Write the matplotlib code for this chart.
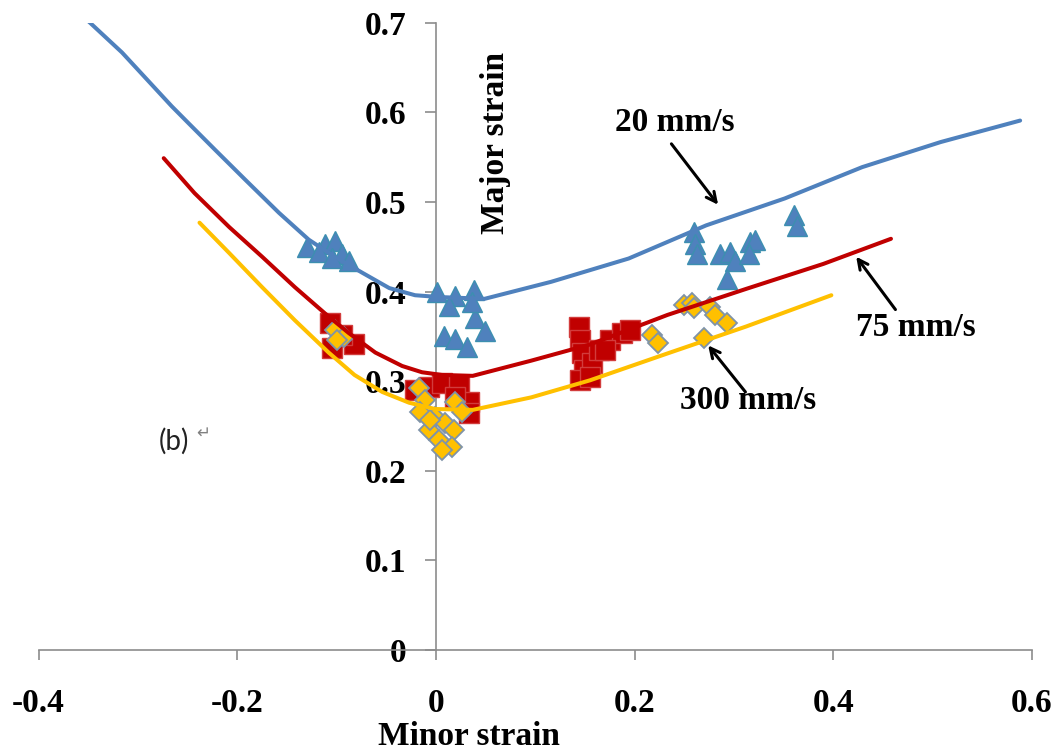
"""Forming limit curves (major vs minor strain) at three punch speeds, panel (b)."""
import matplotlib
matplotlib.use("Agg")
import matplotlib.pyplot as plt

# --- limit curves -------------------------------------------------------- #
blue_x = [-0.352, -0.348, -0.316, -0.286, -0.266, -0.249, -0.222, -0.192,
          -0.158, -0.128, -0.102, -0.074, -0.047, -0.021, 0.003, 0.049, 0.116,
          0.194, 0.272, 0.351, 0.429, 0.508, 0.588]
blue_y = [0.704, 0.700, 0.667, 0.631, 0.607, 0.588, 0.558, 0.525,
          0.488, 0.458, 0.439, 0.421, 0.404, 0.396, 0.394, 0.392, 0.411,
          0.437, 0.474, 0.504, 0.539, 0.567, 0.591]

red_x = [-0.274, -0.243, -0.208, -0.175, -0.142, -0.112, -0.088, -0.061,
         -0.034, -0.014, 0.006, 0.037, 0.096, 0.155, 0.233, 0.312, 0.390, 0.458]
red_y = [0.549, 0.510, 0.472, 0.439, 0.405, 0.376, 0.354, 0.332,
         0.317, 0.310, 0.307, 0.306, 0.323, 0.341, 0.374, 0.403, 0.431, 0.459]

yel_x = [-0.238, -0.208, -0.175, -0.142, -0.108, -0.082, -0.054, -0.027,
         -0.001, 0.037, 0.096, 0.155, 0.233, 0.312, 0.398]
yel_y = [0.477, 0.443, 0.405, 0.368, 0.332, 0.307, 0.288, 0.276,
         0.269, 0.268, 0.282, 0.301, 0.331, 0.361, 0.396]

# --- measured points ----------------------------------------------------- #
tri_x = [-0.130, -0.112, -0.102, -0.118, -0.095, -0.088, -0.105,
         0.001, 0.019, 0.038, 0.013, 0.039, 0.049, 0.008, 0.019, 0.031, 0.036,
         0.260, 0.261, 0.263, 0.286, 0.296, 0.301, 0.293, 0.316, 0.321, 0.315,
         0.360, 0.363]
tri_y = [0.450, 0.453, 0.456, 0.444, 0.442, 0.434, 0.438,
         0.400, 0.395, 0.402, 0.384, 0.371, 0.356, 0.350, 0.347, 0.338, 0.389,
         0.467, 0.453, 0.442, 0.442, 0.444, 0.434, 0.414, 0.455, 0.458, 0.442,
         0.486, 0.473]

sq_x = [-0.107, -0.105, -0.082, -0.095,
        -0.021, -0.007, 0.006, 0.023, 0.033, 0.033, 0.019,
        0.144, 0.145, 0.147, 0.149, 0.145, 0.157, 0.164, 0.175, 0.187, 0.195,
        0.170, 0.155]
sq_y = [0.365, 0.337, 0.341, 0.352,
        0.290, 0.294, 0.298, 0.296, 0.277, 0.265, 0.282,
        0.361, 0.346, 0.332, 0.313, 0.301, 0.320, 0.335, 0.346, 0.354, 0.357,
        0.335, 0.305]

dia_x = [-0.102, -0.093, -0.100,
         -0.017, -0.011, -0.016, -0.001, -0.007, 0.009, 0.019, 0.018, 0.003,
         0.016, 0.006, 0.026, -0.006,
         0.217, 0.224, 0.250, 0.258, 0.260, 0.276, 0.281, 0.293, 0.270]
dia_y = [0.357, 0.349, 0.346,
         0.292, 0.279, 0.266, 0.260, 0.246, 0.253, 0.277, 0.246, 0.234,
         0.227, 0.223, 0.266, 0.257,
         0.352, 0.343, 0.385, 0.387, 0.382, 0.383, 0.374, 0.365, 0.348]

x_ticks = [-0.4, -0.2, 0.0, 0.2, 0.4, 0.6]
x_ticklabels = ["-0.4", "-0.2", "0", "0.2", "0.4", "0.6"]
y_ticks = [0.0, 0.1, 0.2, 0.3, 0.4, 0.5, 0.6, 0.7]
y_ticklabels = ["0", "0.1", "0.2", "0.3", "0.4", "0.5", "0.6", "0.7"]

# speed labels: text position, arrow tail, arrow head (data coords)
speed_labels = ["20 mm/s", "75 mm/s", "300 mm/s"]
label_xy = [(0.240, 0.589), (0.483, 0.360), (0.314, 0.279)]
arrow_tail = [(0.237, 0.565), (0.4625, 0.380), (0.3115, 0.288)]
arrow_head = [(0.284, 0.497), (0.423, 0.439), (0.274, 0.340)]

SERIF = "Liberation Serif"
AXIS_GREY = "#8c8c8c"
FS = 24

fig = plt.figure(figsize=(10.62, 7.54), dpi=100)
ax = fig.add_axes([0.0363, 0.138, 0.9355, 0.8316])

# markers first, curves drawn over them
ax.plot(tri_x, tri_y, ls="none", marker="^", ms=14, mfc="#4F81BD",
        mec="#3C8FB0", mew=1.0, zorder=3)
ax.plot(sq_x, sq_y, ls="none", marker="s", ms=14, mfc="#C00000",
        mec="#D23C3C", mew=1.0, zorder=3)
ax.plot(dia_x, dia_y, ls="none", marker="D", ms=10, mfc="#FFC000",
        mec="#7F93A8", mew=1.3, zorder=3)

for cx, cy, col in ((blue_x, blue_y, "#4F81BD"), (red_x, red_y, "#C00000"),
                    (yel_x, yel_y, "#FFC000")):
    ax.plot(cx, cy, color=col, lw=2.9, zorder=4,
            solid_joinstyle="round", solid_capstyle="round")

ax.set_xlim(-0.4, 0.6)
ax.set_ylim(0, 0.7)

# spines crossing at the origin, Excel style
ax.spines["left"].set_position(("data", 0))
ax.spines["bottom"].set_position(("data", 0))
ax.spines["top"].set_visible(False)
ax.spines["right"].set_visible(False)
for s in ("left", "bottom"):
    ax.spines[s].set_color(AXIS_GREY)
    ax.spines[s].set_linewidth(1.2)

ax.set_xticks(x_ticks)
ax.set_xticklabels(x_ticklabels)
ax.set_yticks(y_ticks)
ax.set_yticklabels(y_ticklabels)
ax.tick_params(axis="x", direction="out", length=7.5, width=1.2,
               color=AXIS_GREY, pad=20)
ax.tick_params(axis="y", direction="out", length=8, width=1.2,
               color=AXIS_GREY, pad=13)
for lab in ax.get_xticklabels() + ax.get_yticklabels():
    lab.set_fontfamily(SERIF)
    lab.set_fontweight("bold")
    lab.set_fontsize(FS)

fig.text(469 / 1062, 1 - 745 / 754, "Minor strain", ha="center",
         va="baseline", fontfamily=SERIF, fontweight="bold", fontsize=FS)
ax.text(0.06, 0.566, "Major strain", rotation=90, ha="center", va="center",
        fontfamily=SERIF, fontweight="bold", fontsize=FS)

for lab, txy, tail, head in zip(speed_labels, label_xy, arrow_tail, arrow_head):
    ax.text(txy[0], txy[1], lab, ha="center", va="center",
            fontfamily=SERIF, fontweight="bold", fontsize=FS, zorder=6)
    ax.annotate("", xy=head, xytext=tail,
                arrowprops=dict(arrowstyle="->,head_length=0.7,head_width=0.35",
                                color="black", lw=2.2, shrinkA=0, shrinkB=0),
                zorder=5)

ax.text(-0.2637, 0.233, "(b)", ha="center", va="center", fontsize=20,
        family=["Lato", "DejaVu Sans"], color="#222222")
ax.text(-0.2345, 0.243, "\u21b5", ha="center", va="center", fontsize=12,
        family=["DejaVu Sans"], color="#808080")

fig.savefig("out.png", dpi=100)
